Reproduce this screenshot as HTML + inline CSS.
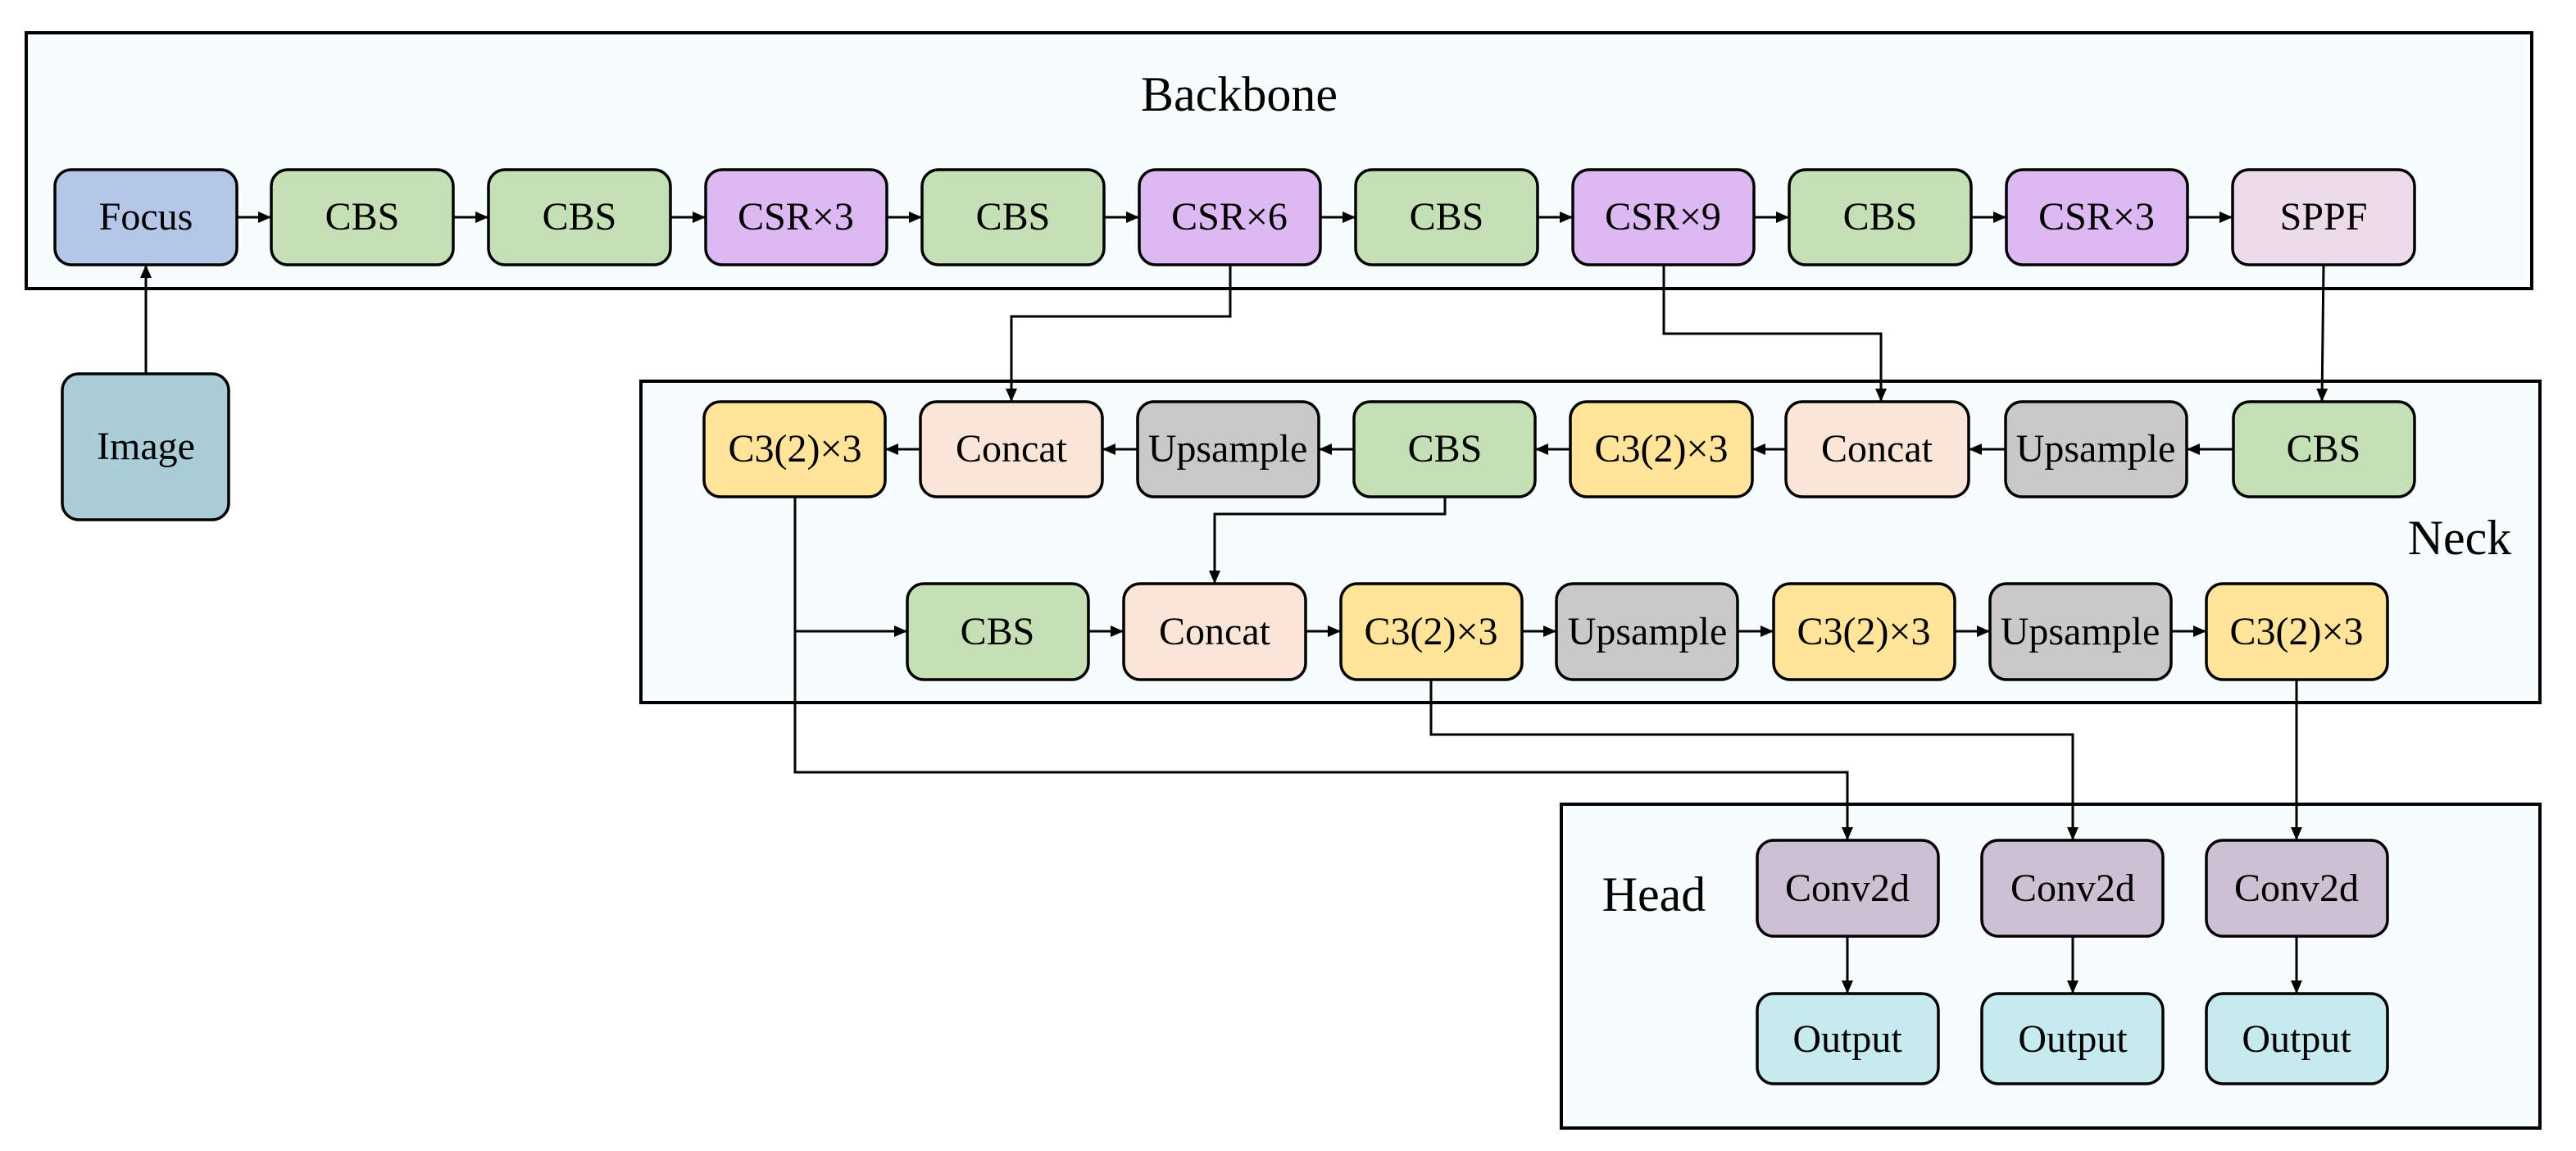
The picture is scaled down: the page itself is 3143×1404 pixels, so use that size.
<!DOCTYPE html>
<html><head><meta charset="utf-8"><style>html,body{margin:0;padding:0;background:#fff}svg{display:block}</style></head>
<body>
<svg width="3143" height="1404" viewBox="0 0 3143 1404" xmlns="http://www.w3.org/2000/svg" font-family="'Liberation Serif', serif">
<defs>
<marker id="a" markerWidth="16" markerHeight="14" refX="16" refY="7" orient="auto" markerUnits="userSpaceOnUse"><path d="M0,0 L16,7 L0,14 z" fill="#000"/></marker>
</defs>
<rect x="32" y="40" width="3057" height="312" fill="#f7fdfd" stroke="#000" stroke-width="4"/>
<rect x="782" y="465" width="2317" height="392" fill="#f7fdfd" stroke="#000" stroke-width="4"/>
<rect x="1905" y="981" width="1194" height="395" fill="#f7fdfd" stroke="#000" stroke-width="4"/>
<text x="1512" y="135" font-size="60" text-anchor="middle">Backbone</text>
<text x="3001" y="676" font-size="60" text-anchor="middle">Neck</text>
<text x="2018" y="1111" font-size="60" text-anchor="middle">Head</text>

<g stroke="#000" stroke-width="3" fill="none">
<line x1="289" y1="265" x2="331" y2="265" marker-end="url(#a)"/>
<line x1="553" y1="265" x2="596" y2="265" marker-end="url(#a)"/>
<line x1="818" y1="265" x2="861" y2="265" marker-end="url(#a)"/>
<line x1="1082" y1="265" x2="1125" y2="265" marker-end="url(#a)"/>
<line x1="1347" y1="265" x2="1390" y2="265" marker-end="url(#a)"/>
<line x1="1611" y1="265" x2="1654" y2="265" marker-end="url(#a)"/>
<line x1="1876" y1="265" x2="1919" y2="265" marker-end="url(#a)"/>
<line x1="2140" y1="265" x2="2183" y2="265" marker-end="url(#a)"/>
<line x1="2405" y1="265" x2="2448" y2="265" marker-end="url(#a)"/>
<line x1="2669" y1="265" x2="2724" y2="265" marker-end="url(#a)"/>
<line x1="178" y1="456" x2="178" y2="323" marker-end="url(#a)"/>
<polyline points="1501,323 1501,386 1234,386 1234,490" marker-end="url(#a)"/>
<polyline points="2030,323 2030,407 2295,407 2295,490" marker-end="url(#a)"/>
<line x1="2835" y1="323" x2="2833" y2="490" marker-end="url(#a)"/>
<line x1="2725" y1="548" x2="2668" y2="548" marker-end="url(#a)"/>
<line x1="2447" y1="548" x2="2402" y2="548" marker-end="url(#a)"/>
<line x1="2179" y1="548" x2="2138" y2="548" marker-end="url(#a)"/>
<line x1="1916" y1="548" x2="1873" y2="548" marker-end="url(#a)"/>
<line x1="1652" y1="548" x2="1609" y2="548" marker-end="url(#a)"/>
<line x1="1388" y1="548" x2="1345" y2="548" marker-end="url(#a)"/>
<line x1="1123" y1="548" x2="1080" y2="548" marker-end="url(#a)"/>
<polyline points="1763,606 1763,627 1482,627 1482,712" marker-end="url(#a)"/>
<polyline points="970,606 970,942 2254,942 2254,1025" marker-end="url(#a)"/>
<line x1="970" y1="770" x2="1107" y2="770" marker-end="url(#a)"/>
<line x1="1328" y1="770" x2="1371" y2="770" marker-end="url(#a)"/>
<line x1="1593" y1="770" x2="1636" y2="770" marker-end="url(#a)"/>
<line x1="1857" y1="770" x2="1899" y2="770" marker-end="url(#a)"/>
<line x1="2120" y1="770" x2="2164" y2="770" marker-end="url(#a)"/>
<line x1="2385" y1="770" x2="2428" y2="770" marker-end="url(#a)"/>
<line x1="2649" y1="770" x2="2692" y2="770" marker-end="url(#a)"/>
<polyline points="1746,829 1746,896 2529,896 2529,1025" marker-end="url(#a)"/>
<line x1="2802" y1="829" x2="2802" y2="1025" marker-end="url(#a)"/>
<line x1="2254" y1="1142" x2="2254" y2="1212" marker-end="url(#a)"/>
<line x1="2529" y1="1142" x2="2529" y2="1212" marker-end="url(#a)"/>
<line x1="2802" y1="1142" x2="2802" y2="1212" marker-end="url(#a)"/>
</g>

<g stroke="#000" stroke-width="3.5">
<rect x="67" y="207" width="222" height="116" rx="20" fill="#b4c7e7"/>
<rect x="331" y="207" width="222" height="116" rx="20" fill="#c5e0b4"/>
<rect x="596" y="207" width="222" height="116" rx="20" fill="#c5e0b4"/>
<rect x="861" y="207" width="221" height="116" rx="20" fill="#dcb9f2"/>
<rect x="1125" y="207" width="222" height="116" rx="20" fill="#c5e0b4"/>
<rect x="1390" y="207" width="221" height="116" rx="20" fill="#dcb9f2"/>
<rect x="1654" y="207" width="222" height="116" rx="20" fill="#c5e0b4"/>
<rect x="1919" y="207" width="221" height="116" rx="20" fill="#dcb9f2"/>
<rect x="2183" y="207" width="222" height="116" rx="20" fill="#c5e0b4"/>
<rect x="2448" y="207" width="221" height="116" rx="20" fill="#dcb9f2"/>
<rect x="2724" y="207" width="222" height="116" rx="20" fill="#eedbea"/>
<rect x="76" y="456" width="203" height="178" rx="20" fill="#abcdd7"/>
<rect x="859" y="490" width="221" height="116" rx="20" fill="#ffe49a"/>
<rect x="1123" y="490" width="222" height="116" rx="20" fill="#fbe5d6"/>
<rect x="1388" y="490" width="221" height="116" rx="20" fill="#c9c9c9"/>
<rect x="1652" y="490" width="221" height="116" rx="20" fill="#c5e0b4"/>
<rect x="1916" y="490" width="222" height="116" rx="20" fill="#ffe49a"/>
<rect x="2179" y="490" width="223" height="116" rx="20" fill="#fbe5d6"/>
<rect x="2447" y="490" width="221" height="116" rx="20" fill="#c9c9c9"/>
<rect x="2725" y="490" width="221" height="116" rx="20" fill="#c5e0b4"/>
<rect x="1107" y="712" width="221" height="117" rx="20" fill="#c5e0b4"/>
<rect x="1371" y="712" width="222" height="117" rx="20" fill="#fbe5d6"/>
<rect x="1636" y="712" width="221" height="117" rx="20" fill="#ffe49a"/>
<rect x="1899" y="712" width="221" height="117" rx="20" fill="#c9c9c9"/>
<rect x="2164" y="712" width="221" height="117" rx="20" fill="#ffe49a"/>
<rect x="2428" y="712" width="221" height="117" rx="20" fill="#c9c9c9"/>
<rect x="2692" y="712" width="221" height="117" rx="20" fill="#ffe49a"/>
<rect x="2144" y="1025" width="221" height="117" rx="20" fill="#cdc0d2"/>
<rect x="2418" y="1025" width="221" height="117" rx="20" fill="#cdc0d2"/>
<rect x="2692" y="1025" width="221" height="117" rx="20" fill="#cdc0d2"/>
<rect x="2144" y="1212" width="221" height="110" rx="20" fill="#c6eaf0"/>
<rect x="2418" y="1212" width="221" height="110" rx="20" fill="#c6eaf0"/>
<rect x="2692" y="1212" width="221" height="110" rx="20" fill="#c6eaf0"/>
</g>

<g font-size="48" text-anchor="middle" fill="#000">
<text x="178" y="280">Focus</text>
<text x="442" y="280">CBS</text>
<text x="707" y="280">CBS</text>
<text x="971" y="280">CSR×3</text>
<text x="1236" y="280">CBS</text>
<text x="1500" y="280">CSR×6</text>
<text x="1765" y="280">CBS</text>
<text x="2029" y="280">CSR×9</text>
<text x="2294" y="280">CBS</text>
<text x="2558" y="280">CSR×3</text>
<text x="2835" y="280">SPPF</text>
<text x="178" y="560">Image</text>
<text x="970" y="563">C3(2)×3</text>
<text x="1234" y="563">Concat</text>
<text x="1498" y="563">Upsample</text>
<text x="1763" y="563">CBS</text>
<text x="2027" y="563">C3(2)×3</text>
<text x="2290" y="563">Concat</text>
<text x="2557" y="563">Upsample</text>
<text x="2835" y="563">CBS</text>
<text x="1217" y="786">CBS</text>
<text x="1482" y="786">Concat</text>
<text x="1746" y="786">C3(2)×3</text>
<text x="2010" y="786">Upsample</text>
<text x="2274" y="786">C3(2)×3</text>
<text x="2538" y="786">Upsample</text>
<text x="2802" y="786">C3(2)×3</text>
<text x="2254" y="1099">Conv2d</text>
<text x="2529" y="1099">Conv2d</text>
<text x="2802" y="1099">Conv2d</text>
<text x="2254" y="1283">Output</text>
<text x="2529" y="1283">Output</text>
<text x="2802" y="1283">Output</text>
</g>
</svg>
</body></html>
